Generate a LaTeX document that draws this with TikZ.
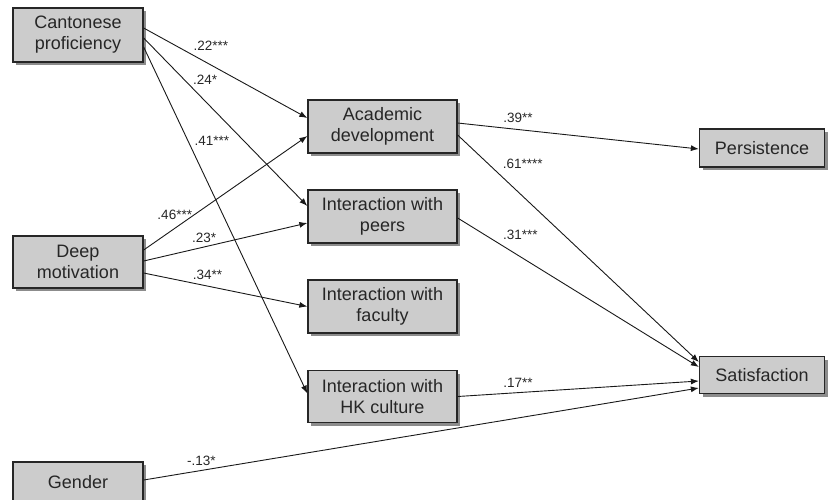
\documentclass[tikz,border=0pt]{standalone}
\usepackage{fontspec}
\setmainfont{Liberation Sans}
\usetikzlibrary{shadows,arrows.meta}

\begin{document}
\begin{tikzpicture}[x=1pt,y=-1pt]
        \tikzstyle{every node}=[node distance=90pt,text=black!85]
        \tikzstyle{var}=[draw=black!85,line width=1.3pt,fill=black!20,align=center,
          font=\fontsize{18}{21}\selectfont,inner sep=2pt,
          drop shadow={fill=black!45,opacity=1,shadow xshift=3pt,shadow yshift=-3pt}]
        \tikzstyle{coef}=[font=\fontsize{13.5}{14}\selectfont,inner sep=0pt]
        \tikzstyle{eff}=[draw=black!90,line width=0.9pt,-{Latex[length=8pt,width=6pt]}]

        \useasboundingbox (0,0) rectangle (834,499);
        \clip (0,0) rectangle (834,499);

        % predictors
        \node[var,minimum width=130pt,minimum height=54pt] (cantonese) at (78,35) {Cantonese\\proficiency};
        \node[var,minimum width=130pt,minimum height=52pt] (deep) at (78,262) {Deep\\motivation};
        \node[var,minimum width=130pt,minimum height=40pt] (gender) at (78,482) {Gender};

        % engagement
        \node[var,minimum width=149pt,minimum height=53pt] (academic) at (382.5,126.5) {Academic\\development};
        \node[var,minimum width=149pt,minimum height=53pt,below of=academic] (peers) {Interaction with\\peers};
        \node[var,minimum width=149pt,minimum height=53pt,below of=peers] (faculty) {Interaction with\\faculty};
        \node[var,minimum width=149pt,minimum height=52pt,below of=faculty] (culture) {Interaction with\\HK culture};

        % outcomes
        \node[var,minimum width=125pt,minimum height=38pt] (persistence) at (762,148) {Persistence};
        \node[var,minimum width=125pt,minimum height=37pt] (satisfaction) at (762,375) {Satisfaction};

        % cantonese proficiency
        \draw[eff] ([yshift=7pt]cantonese.east) -- node[coef,pos=.41,yshift=19pt] {.22***} ([yshift=8.5pt]academic.west);
        \draw[eff] ([yshift=-3pt]cantonese.east) -- node[coef,pos=.376,yshift=21pt] {.24*} ([yshift=10.5pt]peers.west);
        \draw[eff] ([yshift=-12pt]cantonese.east) -- node[coef,pos=.27,xshift=24pt] {.41***} ([yshift=3pt]culture.west);

        % deep motivation
        \draw[eff] ([yshift=12pt]deep.east) -- node[coef,pos=.19,yshift=13.5pt] {.46***} ([yshift=-9.5pt]academic.west);
        \draw[eff] ([yshift=1pt]deep.east) -- node[coef,pos=.37,yshift=9pt] {.23*} ([yshift=-6.5pt]peers.west);
        \draw[eff] ([yshift=-11pt]deep.east) -- node[coef,pos=.39,yshift=11pt] {.34**} (faculty.west);

        % outcomes
        \draw[eff] ([yshift=3.5pt]academic.east) -- node[coef,pos=.25,yshift=11.5pt] {.39**} ([yshift=-1pt]persistence.west);
        \draw[eff] ([yshift=-8.5pt]academic.east) -- node[coef,pos=.27,yshift=32pt] {.61****} ([yshift=13pt]satisfaction.west);
        \draw[eff] ([yshift=-1.5pt]peers.east) -- node[coef,pos=.26,yshift=22pt] {.31***} ([yshift=8pt]satisfaction.west);
        \draw[eff] (culture.east) -- node[coef,pos=.25,yshift=10pt] {.17**} ([yshift=-6pt]satisfaction.west);
        \draw[eff] ([yshift=2pt]gender.east) -- node[coef,pos=.104,yshift=9.5pt] {-.13*} ([yshift=-13pt]satisfaction.west);

    \end{tikzpicture}
\end{document}
